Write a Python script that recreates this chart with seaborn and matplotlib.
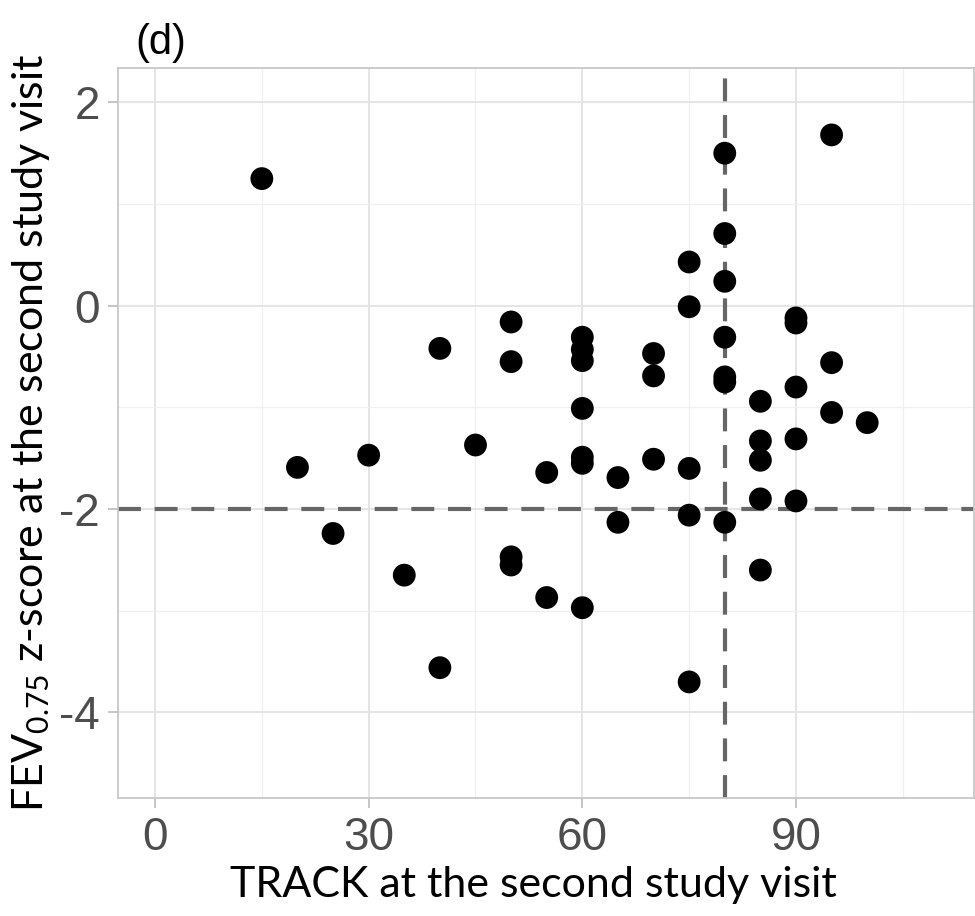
import matplotlib
matplotlib.use("Agg")
import matplotlib.pyplot as plt
import seaborn as sns
import pandas as pd

track = [15, 20, 25, 30, 35, 40, 40, 45, 50, 50, 50, 50, 55, 55,
         60, 60, 60, 60, 60, 60, 60, 65, 65, 70, 70, 70,
         75, 75, 75, 75, 75, 80, 80, 80, 80, 80, 80, 80,
         85, 85, 85, 85, 85, 90, 90, 90, 90, 90, 95, 95, 95, 100]
fev = [1.25, -1.59, -2.24, -1.47, -2.65, -0.42, -3.56, -1.37,
       -0.16, -0.55, -2.47, -2.55, -1.64, -2.87,
       -0.31, -0.43, -0.54, -1.01, -1.49, -1.55, -2.97,
       -1.69, -2.13, -0.47, -0.69, -1.51,
       0.43, -0.01, -1.60, -2.06, -3.70,
       1.50, 0.71, 0.24, -0.31, -0.70, -0.75, -2.13,
       -0.94, -1.33, -1.52, -1.90, -2.60,
       -0.12, -0.17, -0.80, -1.31, -1.92,
       1.68, -0.56, -1.05, -1.15]

x_ticks = [0, 30, 60, 90]
x_minor = [15, 45, 75, 105]
y_ticks = [-4, -2, 0, 2]
y_minor = [-3, -1, 1]
x_cut = 80
y_cut = -2

df = pd.DataFrame({"track": track, "fev": fev})

sns.set_theme(style="white")
plt.rcParams["font.family"] = ["Liberation Sans", "DejaVu Sans"]
plt.rcParams["axes.unicode_minus"] = False

fig = plt.figure(figsize=(9.75, 9.16), dpi=100)
ax = fig.add_axes([0.121, 0.129, 0.878, 0.797])

ax.set_xlim(-5.2, 115)
ax.set_ylim(-4.84, 2.34)
ax.set_xticks(x_ticks)
ax.set_xticks(x_minor, minor=True)
ax.set_yticks(y_ticks)
ax.set_yticks(y_minor, minor=True)
ax.grid(True, which="major", color="#E3E3E3", linewidth=1.3)
ax.grid(True, which="minor", color="#F0F0F0", linewidth=0.9)
ax.set_axisbelow(True)

sns.scatterplot(data=df, x="track", y="fev", ax=ax, color="black",
                s=270, edgecolor="none", linewidth=0, zorder=3)

ax.axvline(x_cut, color="#666666", linewidth=3.0, dashes=(5.5, 3.3), zorder=2)
ax.axhline(y_cut, color="#666666", linewidth=3.0, dashes=(5.5, 3.3), zorder=2)

for s in ax.spines.values():
    s.set_color("#C8C8C8")
    s.set_linewidth(1.3)

ax.tick_params(axis="both", which="major", length=7, width=1.2, color="#BBBBBB",
               labelsize=33, labelcolor="#4D4D4D", pad=6, bottom=True, left=True)
ax.tick_params(axis="both", which="minor", length=0)
for lab in ax.get_xticklabels() + ax.get_yticklabels():
    lab.set_fontfamily(["Liberation Sans", "DejaVu Sans"])

ax.set_xlabel("TRACK at the second study visit", fontsize=31,
              fontfamily=["Lato", "DejaVu Sans"], color="black")
ax.set_ylabel(r"FEV$_{\mathregular{0.75}}$ z-score at the second study visit",
              fontsize=31, fontfamily=["Lato", "DejaVu Sans"], color="black")
ax.yaxis.set_label_coords(-0.077, 0.5)
ax.xaxis.set_label_coords(0.485, -0.094)

fig.text(135 / 975, 1 - 54 / 916, "(d)", fontsize=30, color="black",
         fontfamily=["Liberation Sans", "DejaVu Sans"], ha="left", va="baseline")

fig.savefig("out.png", dpi=100)
